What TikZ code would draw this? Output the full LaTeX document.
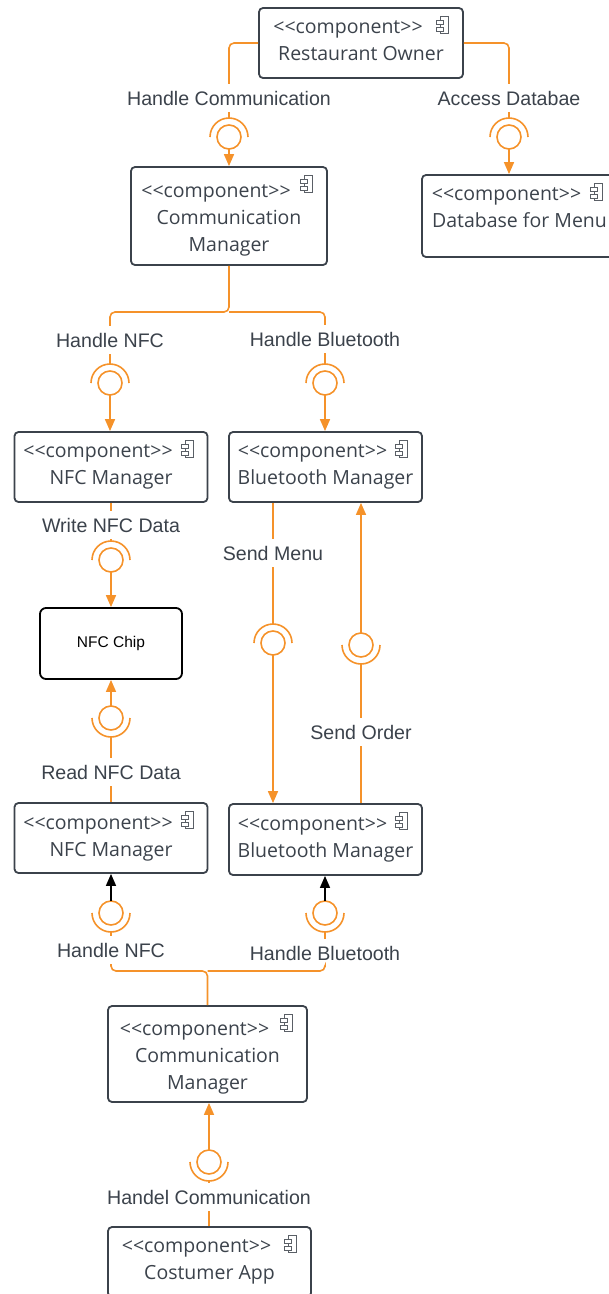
\documentclass[tikz,border=0pt]{standalone}
\usepackage{fontspec}
\setmainfont{Open Sans}
\newfontfamily\labfont{Liberation Sans}
\usetikzlibrary{arrows.meta,calc}

\definecolor{wire}{HTML}{F5922A}
\definecolor{ink}{HTML}{3B424B}
\definecolor{iconink}{HTML}{5A5F66}

\tikzset{
  compbox/.style={draw=ink, line width=1.8pt, rounded corners=4pt, inner sep=0pt},
  comptext/.style={text=ink, font=\fontsize{19.5}{27}\selectfont, align=center,
    inner sep=0pt, text height=14pt, text depth=0pt},
  chipbox/.style={draw=black, line width=1.8pt, rounded corners=6pt, inner sep=0pt,
    font=\labfont\fontsize{15.5}{18}\selectfont},
  conn/.style={draw=wire, line width=1.6pt},
  elbow/.style={conn, rounded corners=5pt},
  tip/.style={conn, -{Triangle[width=10pt,length=12pt]}},
  darktip/.style={draw=black, line width=1.6pt, -{Triangle[width=10pt,length=12pt]}},
  iface/.style={text=ink, font=\labfont\fontsize{19.6}{22}\selectfont,
    text height=14pt, text depth=0pt, inner xsep=2pt, inner ysep=7pt},
  iconline/.style={draw=iconink, line width=0.9pt, fill=white}
}

% component box: name, centre x, centre y, width, height, title,
% offset of the last title line from the box centre
\newcommand\comp[7]{%
  \node[compbox, minimum width=#4pt, minimum height=#5pt] (#1) at (#2,#3) {};
  \node[comptext] (#1-t) at ($(#1.center)+(0,#7)$)
    {\mbox{<{}<component>{}>\hspace{26pt}}\\#6};
  \draw[iconline] ($(#1.north east)+(-23,9)$) rectangle ($(#1.north east)+(-15,26)$);
  \draw[iconline] ($(#1.north east)+(-27,13)$) rectangle ($(#1.north east)+(-20,17)$);
  \draw[iconline] ($(#1.north east)+(-27,20)$) rectangle ($(#1.north east)+(-20,24)$);
}

% ball with the socket arc above it
\newcommand\socktop[3]{%
  \coordinate (#1) at (#2,#3);
  \coordinate (#1-in) at (#2,#3-19);
  \coordinate (#1-out) at (#2,#3+12);
  \draw[conn] (#1) circle[radius=12];
  \draw[conn] (#2-19,#3) arc[start angle=180, end angle=360, radius=19];
}
% ball with the socket arc below it
\newcommand\sockbot[3]{%
  \coordinate (#1) at (#2,#3);
  \coordinate (#1-in) at (#2,#3+19);
  \coordinate (#1-out) at (#2,#3-12);
  \draw[conn] (#1) circle[radius=12];
  \draw[conn] (#2-19,#3) arc[start angle=180, end angle=0, radius=19];
}

\begin{document}
\begin{tikzpicture}[x=1pt, y=-1pt]
\useasboundingbox (0,0) rectangle (609,1294);
\clip (0,0) rectangle (609,1294);

% ---------- owner side ----------
\comp{ro}{361}{43}{204}{70}{Restaurant Owner}{10}
\comp{cmo}{229}{216}{196}{98}{Communication\\Manager}{28}
\comp{db}{519.5}{216}{195}{82}{Database for Menu}{4}
\comp{nfco}{111}{467}{193}{70}{NFC Manager}{10}
\comp{bto}{325.5}{467}{193}{70}{Bluetooth Manager}{10}

\node[chipbox, minimum width=142pt, minimum height=71pt] (chip) at (111,643.5) {NFC Chip};

% ---------- customer side ----------
\comp{nfcc}{111}{838}{193}{70}{NFC Manager}{11}
\comp{btc}{325.5}{839.5}{193}{71}{Bluetooth Manager}{10.5}
\comp{cmc}{207.5}{1054}{199}{96}{Communication\\Manager}{28.5}
\comp{app}{209.5}{1262}{203}{70}{Costumer App}{10.5}

% ---------- interface labels ----------
\node[iface] (lhc)  at (229,98)   {Handle Communication};
\node[iface] (lad)  at (509,98)   {Access Databae};
\node[iface] (lnfo) at (110,340)  {Handle NFC};
\node[iface] (lbto) at (325,339)  {Handle Bluetooth};
\node[iface] (lwr)  at (111,525)  {Write NFC Data};
\node[iface] (lsm)  at (273,553)  {Send Menu};
\node[iface] (lso)  at (361,732)  {Send Order};
\node[iface] (lrd)  at (111,772)  {Read NFC Data};
\node[iface] (lnfc) at (111,950)  {Handle NFC};
\node[iface] (lbtc) at (325,953)  {Handle Bluetooth};
\node[iface] (lcom) at (209,1197) {Handel Communication};

% ---------- ball and socket symbols ----------
\socktop{shc}{229}{137}
\socktop{sad}{509}{137}
\socktop{snfo}{110}{383}
\socktop{sbto}{325}{383}
\socktop{swr}{111}{560}
\socktop{ssm}{273}{643}
\sockbot{sso}{361}{645}
\sockbot{srd}{111}{718}
\sockbot{snfc}{111}{913}
\sockbot{sbtc}{325}{913}
\sockbot{scom}{209}{1162}

\coordinate (jo) at (229,312);
\coordinate (jc) at (207.5,971);

% ---------- connectors ----------
\draw[elbow] (ro.west) -| (lhc.north);
\draw[conn] (lhc.south) -- (shc-in);
\draw[tip] (shc-out) -- (shc-out |- cmo.north);

\draw[elbow] (ro.east) -| (lad.north);
\draw[conn] (lad.south) -- (sad-in);
\draw[tip] (sad-out) -- (sad-out |- db.north);

\draw[elbow] (cmo.south) -- (jo) -| (lnfo.north);
\draw[elbow] (jo) -| (lbto.north);
\draw[conn] (lnfo.south) -- (snfo-in);
\draw[tip] (snfo-out) -- (snfo-out |- nfco.north);
\draw[conn] (lbto.south) -- (sbto-in);
\draw[tip] (sbto-out) -- (sbto-out |- bto.north);

\draw[conn] (lwr |- nfco.south) -- (lwr.north);
\draw[conn] (lwr.south) -- (swr-in);
\draw[tip] (swr-out) -- (swr-out |- chip.north);

\draw[conn] (lsm |- bto.south) -- (lsm.north);
\draw[conn] (lsm.south) -- (ssm-in);
\draw[tip] (ssm-out) -- (ssm-out |- btc.north);

\draw[conn] (lso |- btc.north) -- (lso.south);
\draw[conn] (lso.north) -- (sso-in);
\draw[tip] (sso-out) -- (sso-out |- bto.south);

\draw[conn] (lrd |- nfcc.north) -- (lrd.south);
\draw[conn] (lrd.north) -- (srd-in);
\draw[tip] (srd-out) -- (srd-out |- chip.south);

\draw[elbow] (cmc.north) -- (jc) -| (lnfc.south);
\draw[elbow] (jc) -| (lbtc.south);
\draw[conn] (lnfc.north) -- (snfc-in);
\draw[darktip] (snfc-out) -- (snfc-out |- nfcc.south);
\draw[conn] (lbtc.north) -- (sbtc-in);
\draw[darktip] (sbtc-out) -- (sbtc-out |- btc.south);

\draw[conn] (app.north -| lcom) -- (lcom.south);
\draw[conn] (lcom.north) -- (scom-in);
\draw[tip] (scom-out) -- (scom-out |- cmc.south);
\end{tikzpicture}
\end{document}
